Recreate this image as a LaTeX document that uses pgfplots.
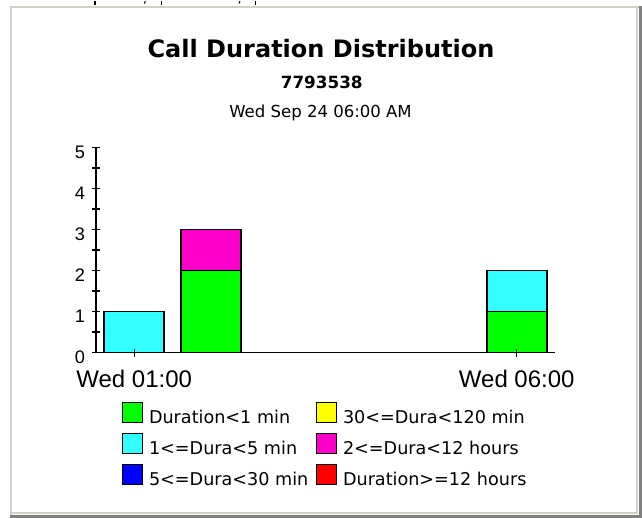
\documentclass[border=0pt]{standalone}
\usepackage{fontspec}
\setmainfont{DejaVu Sans}
\newfontfamily\lib{Liberation Sans}
\usepackage{pgfplots}
\pgfplotsset{compat=1.18}
\definecolor{cgreen}{HTML}{00FF00}
\definecolor{ccyan}{HTML}{33FFFF}
\definecolor{cblue}{HTML}{0000FF}
\definecolor{cyellow}{HTML}{FFFF00}
\definecolor{cmagenta}{HTML}{FF00CC}
\definecolor{cred}{HTML}{FF0000}
\definecolor{framelight}{HTML}{D4D0C8}
\definecolor{framedark}{HTML}{808080}
\begin{document}
\begin{tikzpicture}
% background and frame (1px = 0.75pt)
\fill[white] (0pt,0pt) rectangle (481.5pt,-387.75pt);
\draw[framelight, line width=1.5pt] (7.875pt,-386pt) -- (7.875pt,-4.875pt) -- (479pt,-4.875pt);
\draw[framelight, line width=1.5pt] (477.75pt,-4.875pt) -- (477.75pt,-384.4pt) -- (7.5pt,-384.4pt);
\fill[framedark] (479.6pt,-3.75pt) rectangle (481.5pt,-387.75pt);
\fill[framedark] (7.5pt,-385.9pt) rectangle (481.5pt,-387.75pt);
% cropped text fragments at the very top
\draw[black, line width=0.8pt] (71.25pt,0pt) -- (71.25pt,-3.2pt);
\draw[black, line width=0.8pt] (109pt,-0.5pt) -- (108.3pt,-2.2pt);
\draw[black, line width=0.8pt] (121.2pt,0pt) -- (121.2pt,-3.2pt);
\draw[black, line width=0.8pt] (180pt,-0.5pt) -- (179.3pt,-2.2pt);
\draw[black, line width=0.8pt] (191.5pt,0pt) -- (191.5pt,-3.2pt);
% titles
\node[anchor=base, inner sep=0pt, font=\bfseries\fontsize{18}{20}\selectfont] at (240.75pt,-42.5pt) {Call Duration Distribution};
\node[anchor=base, inner sep=0pt, font=\bfseries\fontsize{12.6}{14}\selectfont] at (241.3pt,-66.2pt) {7793538};
\node[anchor=base, inner sep=0pt, font=\fontsize{12.4}{14}\selectfont] at (240.4pt,-87.5pt) {Wed Sep 24 06:00 AM};
\begin{axis}[
  at={(72pt,-264pt)}, anchor=south west,
  scale only axis, width=344.25pt, height=153.75pt,
  xmin=0.5, xmax=6.5, ymin=0, ymax=5,
  axis x line*=bottom, axis y line*=left,
  axis line style={line width=1.3pt, -},
  ybar stacked, bar width=45pt,
  xtick={1,6}, xticklabels={Wed 01:00, Wed 06:00},
  ytick={0,1,2,3,4,5}, minor ytick={0.5,1.5,2.5,3.5,4.5},
  tick align=center, major tick length=6pt, minor tick length=6pt,
  tick style={black, line width=1pt},
  minor tick style={black, line width=1pt},
  /pgf/number format/assume math mode=true,
  xticklabel style={font=\lib\fontsize{18}{20}\selectfont, anchor=base, inner sep=0pt, yshift=-23.5pt},
  yticklabel style={font=\lib\fontsize{13.6}{15}\selectfont, anchor=base east, inner sep=0pt, xshift=-5pt, yshift=-8.25pt},
  axis on top,
  legend image code/.code={\draw[#1, draw=black, line width=0.8pt] (0pt,-3.5pt) rectangle (15pt,11.5pt);},
  legend columns=3, transpose legend,
  legend cell align=left,
  legend style={at={(0.056,-0.239)}, anchor=north west, draw=none, fill=none,
    inner sep=0pt, outer sep=0pt, nodes={inner sep=0pt},
    font=\fontsize{13.2}{15}\selectfont,
    row sep=5.65pt,
    /tikz/every odd column/.append style={column sep=4.7pt}},
]
\addplot[fill=cgreen, draw=black, line width=1.3pt] coordinates {(1,0) (2,2) (6,1)};
\addlegendentry{\makebox[125pt][l]{Duration<1 min}}
\addplot[fill=ccyan, draw=black, line width=1.3pt] coordinates {(1,1) (2,0) (6,1)};
\addlegendentry{\makebox[125pt][l]{1<=Dura<5 min}}
\addplot[fill=cblue, draw=black, line width=1.3pt] coordinates {(1,0) (2,0) (6,0)};
\addlegendentry{\makebox[125pt][l]{5<=Dura<30 min}}
\addplot[fill=cyellow, draw=black, line width=1.3pt] coordinates {(1,0) (2,0) (6,0)};
\addlegendentry{30<=Dura<120 min}
\addplot[fill=cmagenta, draw=black, line width=1.3pt] coordinates {(1,0) (2,1) (6,0)};
\addlegendentry{2<=Dura<12 hours}
\addplot[fill=cred, draw=black, line width=1.3pt] coordinates {(1,0) (2,0) (6,0)};
\addlegendentry{Duration>=12 hours}
\end{axis}
\end{tikzpicture}
\end{document}
